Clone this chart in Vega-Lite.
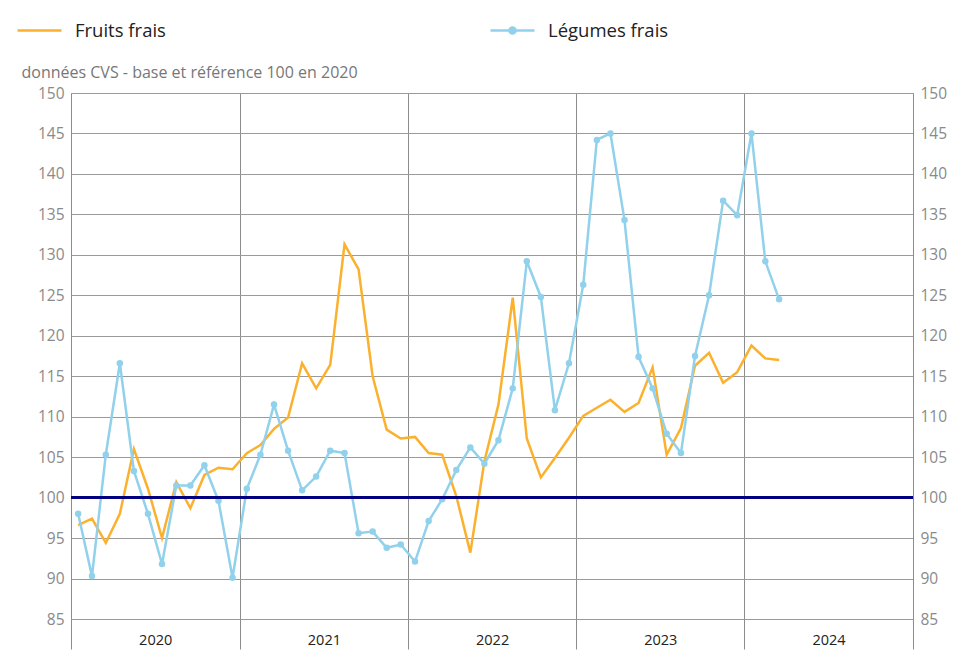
{
  "$schema": "https://vega.github.io/schema/vega-lite/v6.json",
  "width": 842,
  "height": 526,
  "autosize": {"type": "none"},
  "padding": {"left": 71, "top": 93, "right": 45, "bottom": 48},
  "background": "white",
  "config": {
    "font": "Open Sans",
    "view": {"stroke": null},
    "axis": {"gridColor": "#9a9a9a", "gridWidth": 1, "domainColor": "#8c8c8c", "tickColor": "#8c8c8c"}
  },
  "data": {
    "values": [
      {"date": "2020-01", "serie": "Fruits frais", "value": 96.6},
      {"date": "2020-02", "serie": "Fruits frais", "value": 97.4},
      {"date": "2020-03", "serie": "Fruits frais", "value": 94.4},
      {"date": "2020-04", "serie": "Fruits frais", "value": 98.0},
      {"date": "2020-05", "serie": "Fruits frais", "value": 106.0},
      {"date": "2020-06", "serie": "Fruits frais", "value": 101.1},
      {"date": "2020-07", "serie": "Fruits frais", "value": 95.0},
      {"date": "2020-08", "serie": "Fruits frais", "value": 101.9},
      {"date": "2020-09", "serie": "Fruits frais", "value": 98.7},
      {"date": "2020-10", "serie": "Fruits frais", "value": 102.8},
      {"date": "2020-11", "serie": "Fruits frais", "value": 103.7},
      {"date": "2020-12", "serie": "Fruits frais", "value": 103.5},
      {"date": "2021-01", "serie": "Fruits frais", "value": 105.5},
      {"date": "2021-02", "serie": "Fruits frais", "value": 106.5},
      {"date": "2021-03", "serie": "Fruits frais", "value": 108.5},
      {"date": "2021-04", "serie": "Fruits frais", "value": 109.9},
      {"date": "2021-05", "serie": "Fruits frais", "value": 116.6},
      {"date": "2021-06", "serie": "Fruits frais", "value": 113.5},
      {"date": "2021-07", "serie": "Fruits frais", "value": 116.4},
      {"date": "2021-08", "serie": "Fruits frais", "value": 131.3},
      {"date": "2021-09", "serie": "Fruits frais", "value": 128.2},
      {"date": "2021-10", "serie": "Fruits frais", "value": 115.0},
      {"date": "2021-11", "serie": "Fruits frais", "value": 108.4},
      {"date": "2021-12", "serie": "Fruits frais", "value": 107.3},
      {"date": "2022-01", "serie": "Fruits frais", "value": 107.5},
      {"date": "2022-02", "serie": "Fruits frais", "value": 105.5},
      {"date": "2022-03", "serie": "Fruits frais", "value": 105.3},
      {"date": "2022-04", "serie": "Fruits frais", "value": 100.2},
      {"date": "2022-05", "serie": "Fruits frais", "value": 93.2},
      {"date": "2022-06", "serie": "Fruits frais", "value": 104.5},
      {"date": "2022-07", "serie": "Fruits frais", "value": 111.5},
      {"date": "2022-08", "serie": "Fruits frais", "value": 124.7},
      {"date": "2022-09", "serie": "Fruits frais", "value": 107.3},
      {"date": "2022-10", "serie": "Fruits frais", "value": 102.5},
      {"date": "2022-11", "serie": "Fruits frais", "value": 104.9},
      {"date": "2022-12", "serie": "Fruits frais", "value": 107.4},
      {"date": "2023-01", "serie": "Fruits frais", "value": 110.1},
      {"date": "2023-02", "serie": "Fruits frais", "value": 111.1},
      {"date": "2023-03", "serie": "Fruits frais", "value": 112.1},
      {"date": "2023-04", "serie": "Fruits frais", "value": 110.6},
      {"date": "2023-05", "serie": "Fruits frais", "value": 111.7},
      {"date": "2023-06", "serie": "Fruits frais", "value": 116.1},
      {"date": "2023-07", "serie": "Fruits frais", "value": 105.3},
      {"date": "2023-08", "serie": "Fruits frais", "value": 108.6},
      {"date": "2023-09", "serie": "Fruits frais", "value": 116.3},
      {"date": "2023-10", "serie": "Fruits frais", "value": 117.9},
      {"date": "2023-11", "serie": "Fruits frais", "value": 114.2},
      {"date": "2023-12", "serie": "Fruits frais", "value": 115.5},
      {"date": "2024-01", "serie": "Fruits frais", "value": 118.8},
      {"date": "2024-02", "serie": "Fruits frais", "value": 117.2},
      {"date": "2024-03", "serie": "Fruits frais", "value": 117.0},
      {"date": "2020-01", "serie": "Légumes frais", "value": 98.0},
      {"date": "2020-02", "serie": "Légumes frais", "value": 90.3},
      {"date": "2020-03", "serie": "Légumes frais", "value": 105.3},
      {"date": "2020-04", "serie": "Légumes frais", "value": 116.6},
      {"date": "2020-05", "serie": "Légumes frais", "value": 103.3},
      {"date": "2020-06", "serie": "Légumes frais", "value": 98.0},
      {"date": "2020-07", "serie": "Légumes frais", "value": 91.8},
      {"date": "2020-08", "serie": "Légumes frais", "value": 101.5},
      {"date": "2020-09", "serie": "Légumes frais", "value": 101.5},
      {"date": "2020-10", "serie": "Légumes frais", "value": 104.0},
      {"date": "2020-11", "serie": "Légumes frais", "value": 99.6},
      {"date": "2020-12", "serie": "Légumes frais", "value": 90.1},
      {"date": "2021-01", "serie": "Légumes frais", "value": 101.1},
      {"date": "2021-02", "serie": "Légumes frais", "value": 105.3},
      {"date": "2021-03", "serie": "Légumes frais", "value": 111.5},
      {"date": "2021-04", "serie": "Légumes frais", "value": 105.8},
      {"date": "2021-05", "serie": "Légumes frais", "value": 100.9},
      {"date": "2021-06", "serie": "Légumes frais", "value": 102.6},
      {"date": "2021-07", "serie": "Légumes frais", "value": 105.8},
      {"date": "2021-08", "serie": "Légumes frais", "value": 105.5},
      {"date": "2021-09", "serie": "Légumes frais", "value": 95.6},
      {"date": "2021-10", "serie": "Légumes frais", "value": 95.8},
      {"date": "2021-11", "serie": "Légumes frais", "value": 93.8},
      {"date": "2021-12", "serie": "Légumes frais", "value": 94.2},
      {"date": "2022-01", "serie": "Légumes frais", "value": 92.1},
      {"date": "2022-02", "serie": "Légumes frais", "value": 97.1},
      {"date": "2022-03", "serie": "Légumes frais", "value": 99.8},
      {"date": "2022-04", "serie": "Légumes frais", "value": 103.4},
      {"date": "2022-05", "serie": "Légumes frais", "value": 106.2},
      {"date": "2022-06", "serie": "Légumes frais", "value": 104.2},
      {"date": "2022-07", "serie": "Légumes frais", "value": 107.1},
      {"date": "2022-08", "serie": "Légumes frais", "value": 113.5},
      {"date": "2022-09", "serie": "Légumes frais", "value": 129.2},
      {"date": "2022-10", "serie": "Légumes frais", "value": 124.8},
      {"date": "2022-11", "serie": "Légumes frais", "value": 110.8},
      {"date": "2022-12", "serie": "Légumes frais", "value": 116.6},
      {"date": "2023-01", "serie": "Légumes frais", "value": 126.3},
      {"date": "2023-02", "serie": "Légumes frais", "value": 144.2},
      {"date": "2023-03", "serie": "Légumes frais", "value": 145.0},
      {"date": "2023-04", "serie": "Légumes frais", "value": 134.3},
      {"date": "2023-05", "serie": "Légumes frais", "value": 117.4},
      {"date": "2023-06", "serie": "Légumes frais", "value": 113.5},
      {"date": "2023-07", "serie": "Légumes frais", "value": 107.9},
      {"date": "2023-08", "serie": "Légumes frais", "value": 105.5},
      {"date": "2023-09", "serie": "Légumes frais", "value": 117.5},
      {"date": "2023-10", "serie": "Légumes frais", "value": 125.0},
      {"date": "2023-11", "serie": "Légumes frais", "value": 136.7},
      {"date": "2023-12", "serie": "Légumes frais", "value": 134.9},
      {"date": "2024-01", "serie": "Légumes frais", "value": 145.0},
      {"date": "2024-02", "serie": "Légumes frais", "value": 129.2},
      {"date": "2024-03", "serie": "Légumes frais", "value": 124.5}
    ]
  },
  "layer": [
    {
      "mark": {"type": "line", "strokeWidth": 2.5},
      "encoding": {
        "x": {
          "field": "date", "type": "temporal", "timeUnit": "utcyearmonth", "bandPosition": 0.5,
          "scale": {"type": "utc", "domain": [{"year": 2020, "month": 1, "date": 1, "utc": true}, {"year": 2025, "month": 1, "date": 1, "utc": true}]},
          "axis": {
            "orient": "bottom", "title": null, "domain": false, "grid": true, "gridColor": "#8c8c8c",
            "values": [
              {"year": 2020, "month": 1, "date": 1, "utc": true},
              {"year": 2021, "month": 1, "date": 1, "utc": true},
              {"year": 2022, "month": 1, "date": 1, "utc": true},
              {"year": 2023, "month": 1, "date": 1, "utc": true},
              {"year": 2024, "month": 1, "date": 1, "utc": true},
              {"year": 2025, "month": 1, "date": 1, "utc": true}
            ],
            "labelExpr": "utcFormat(datum.value, '%Y') == '2025' ? '' : utcFormat(datum.value, '%Y')",
            "tickSize": 30, "labelPadding": -16, "labelOffset": 84.2, "labelAlign": "center",
            "labelFontSize": 14.5, "labelColor": "#222222", "labelFlush": false, "labelOverlap": false
          }
        },
        "y": {
          "field": "value", "type": "quantitative",
          "scale": {"domain": [85, 150], "nice": false, "zero": false},
          "axis": {
            "orient": "left", "values": [85, 90, 95, 100, 105, 110, 115, 120, 125, 130, 135, 140, 145, 150],
            "ticks": false, "domain": true, "grid": true, "labelPadding": 7, "labelFontSize": 15.5, "labelColor": "#8a8a8a",
            "title": "données CVS - base et référence 100 en 2020", "titleAngle": 0, "titleAlign": "left",
            "titleBaseline": "alphabetic", "titleX": -50, "titleY": -15.5, "titleColor": "#777777",
            "titleFontSize": 16, "titleFontWeight": "normal"
          }
        },
        "color": {
          "field": "serie", "type": "nominal",
          "scale": {"domain": ["Fruits frais", "Légumes frais"], "range": ["#fbb12d", "#91d1eb"]},
          "legend": {
            "orient": "none", "legendX": -55, "legendY": -86, "direction": "horizontal", "title": null,
            "labelFontSize": 18.5, "labelColor": "#222222", "symbolType": "stroke", "symbolSize": 1936,
            "symbolStrokeWidth": 2.5, "labelOffset": 12, "columnPadding": 319, "padding": 0,
            "encode": {
              "symbols": {
                "update": {
                  "shape": {"signal": "datum.value == 'Légumes frais' ? 'M-1,0H1M-0.14,0A0.14,0.14 0 1,0 0.14,0A0.14,0.14 0 1,0 -0.14,0' : 'M-1,0H1'"},
                  "fill": {"signal": "datum.value == 'Légumes frais' ? '#91d1eb' : 'transparent'"}
                }
              }
            }
          }
        }
      }
    },
    {
      "transform": [{"filter": "datum.serie == 'Légumes frais'"}],
      "mark": {"type": "point", "filled": true, "size": 42, "opacity": 1, "color": "#91d1eb"},
      "encoding": {
        "x": {
          "field": "date", "type": "temporal", "timeUnit": "utcyearmonth", "bandPosition": 0.5,
          "axis": null
        },
        "y": {
          "field": "value", "type": "quantitative",
          "axis": {
            "orient": "right", "values": [85, 90, 95, 100, 105, 110, 115, 120, 125, 130, 135, 140, 145, 150],
            "ticks": false, "domain": true, "grid": false, "labelPadding": 7, "labelFontSize": 15.5, "labelColor": "#8a8a8a",
            "title": null
          }
        }
      }
    },
    {
      "mark": {"type": "rule", "color": "#00007f", "strokeWidth": 1.5},
      "encoding": {"y": {"datum": 100, "type": "quantitative", "axis": null}}
    }
  ],
  "resolve": {"axis": {"y": "independent", "x": "independent"}}
}
